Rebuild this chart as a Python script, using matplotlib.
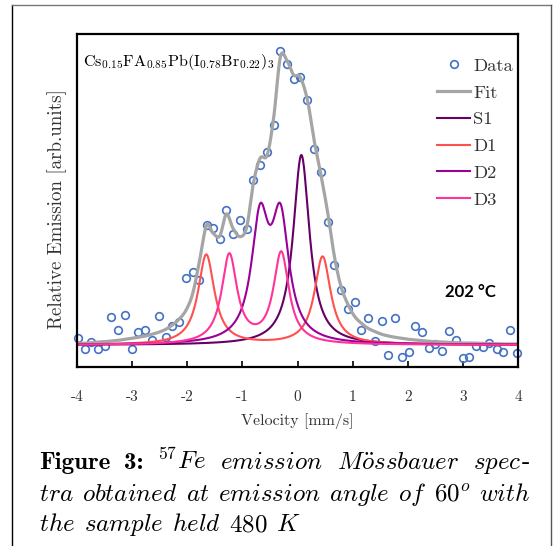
import numpy as np
import matplotlib
matplotlib.use("Agg")
import matplotlib.pyplot as plt
from matplotlib.lines import Line2D

# ---------------- data ----------------
velocity = [-3.99, -3.86, -3.74, -3.62, -3.50, -3.38, -3.25, -3.13, -3.01, -2.89,
            -2.76, -2.64, -2.52, -2.39, -2.27, -2.15, -2.02, -1.90, -1.78, -1.65,
            -1.53, -1.41, -1.29, -1.17, -1.04, -0.92, -0.80, -0.68, -0.55, -0.43,
            -0.31, -0.19, -0.07, 0.05, 0.18, 0.30, 0.42, 0.55, 0.67, 0.79,
            0.92, 1.04, 1.16, 1.28, 1.41, 1.53, 1.65, 1.77, 1.90, 2.02,
            2.14, 2.26, 2.38, 2.50, 2.63, 2.75, 2.87, 3.00, 3.12, 3.24,
            3.36, 3.48, 3.61, 3.73, 3.85, 3.98]
emission = [0.073, -0.037, 0.027, -0.037, -0.007, 0.280, 0.150, 0.300, -0.043, 0.127,
            0.150, 0.050, 0.293, 0.083, 0.190, 0.230, 0.670, 0.727, 0.647, 1.203,
            1.167, 1.057, 1.347, 1.113, 1.253, 1.157, 1.647, 1.797, 1.927, 2.203,
            2.937, 2.810, 2.657, 2.677, 2.450, 1.957, 1.730, 1.233, 0.800, 0.553,
            0.363, 0.433, 0.153, 0.273, 0.040, 0.243, -0.100, 0.267, -0.117, -0.067,
            0.193, 0.127, -0.030, 0.010, -0.057, 0.140, 0.050, -0.133, -0.123, -0.007,
            -0.020, 0.020, -0.043, -0.073, 0.153, -0.083]
fit_values = [0.017, 0.017, 0.023, 0.030, 0.033, 0.040, 0.047, 0.057, 0.067, 0.077,
              0.090, 0.107, 0.127, 0.157, 0.200, 0.257, 0.350, 0.517, 0.833, 1.197,
              1.117, 1.090, 1.310, 1.167, 1.083, 1.183, 1.617, 1.867, 1.900, 2.283,
              2.883, 2.843, 2.700, 2.677, 2.450, 2.050, 1.717, 1.317, 0.883, 0.583,
              0.400, 0.283, 0.217, 0.167, 0.133, 0.107, 0.090, 0.077, 0.067, 0.057,
              0.050, 0.043, 0.037, 0.033, 0.030, 0.027, 0.023, 0.020, 0.020, 0.017,
              0.017, 0.013, 0.013, 0.010, 0.010, 0.010]

# fitted sub-spectra (Lorentzian lines: positions, amplitudes, half widths)
s1_pos = [0.07]
s1_amp = [1.90]
s1_hw = [0.18]
d1_pos = [-1.655, 0.455]
d1_amp = [0.90, 0.88]
d1_hw = [0.18, 0.18]
d2_pos = [-0.679, -0.309]
d2_amp = [1.17, 1.17]
d2_hw = [0.19, 0.19]
d3_pos = [-1.236, -0.296]
d3_amp = [0.89, 0.91]
d3_hw = [0.17, 0.17]

x_ticks = [-4, -3, -2, -1, 0, 1, 2, 3, 4]
series_names = ["Data", "Fit", "S1", "D1", "D2", "D3"]

# ---------------- style ----------------
plt.rcParams.update({
    "font.family": "serif",
    "font.serif": ["cmr10", "DejaVu Serif"],
    "mathtext.fontset": "cm",
    "axes.unicode_minus": False,
    "axes.formatter.use_mathtext": False,
})

W, H = 554, 546
fig = plt.figure(figsize=(W / 100, H / 100), dpi=100)


def fx(px):
    return px / W


def fy(py):
    return 1 - py / H


ax = fig.add_axes([fx(77), fy(367), fx(518) - fx(77), fy(34) - fy(367)])

grid = np.linspace(-4, 4, 1601)


def lorentz_sum(pos, amp, hw):
    out = np.zeros_like(grid)
    for p, a, w in zip(pos, amp, hw):
        out += a / (1 + ((grid - p) / w) ** 2)
    return out


def smooth_line(xs, ys, n=20):
    """Spreadsheet-style smoothed line (Catmull-Rom) through the given points."""
    xs = np.asarray(xs, float)
    ys = np.asarray(ys, float)
    px = np.concatenate([[2 * xs[0] - xs[1]], xs, [2 * xs[-1] - xs[-2]]])
    py = np.concatenate([[2 * ys[0] - ys[1]], ys, [2 * ys[-1] - ys[-2]]])
    t = np.linspace(0, 1, n, endpoint=False)[:, None]
    outx, outy = [], []
    for i in range(1, len(px) - 2):
        for arr, out in ((px, outx), (py, outy)):
            p0, p1, p2, p3 = arr[i - 1], arr[i], arr[i + 1], arr[i + 2]
            seg = 0.5 * ((2 * p1) + (-p0 + p2) * t + (2 * p0 - 5 * p1 + 4 * p2 - p3) * t ** 2
                         + (-p0 + 3 * p1 - 3 * p2 + p3) * t ** 3)
            out.append(seg.ravel())
    outx.append([xs[-1]])
    outy.append([ys[-1]])
    return np.concatenate(outx), np.concatenate(outy)


s1 = lorentz_sum(s1_pos, s1_amp, s1_hw)
d1 = lorentz_sum(d1_pos, d1_amp, d1_hw)
d2 = lorentz_sum(d2_pos, d2_amp, d2_hw)
d3 = lorentz_sum(d3_pos, d3_amp, d3_hw)
fit_x, fit_y = smooth_line(velocity, fit_values)

ax.plot(velocity, emission, linestyle="none", marker="o", markersize=5.5,
        markerfacecolor="none", markeredgecolor="#4472C4", markeredgewidth=1.2,
        label=series_names[0], clip_on=False)
ax.plot(fit_x, fit_y, color="#A5A5A5", lw=2.3, label=series_names[1])
ax.plot(grid, s1, color="#660066", lw=1.5, label=series_names[2])
ax.plot(grid, d1, color="#FF5050", lw=1.5, label=series_names[3])
ax.plot(grid, d2, color="#990099", lw=1.5, label=series_names[4])
ax.plot(grid, d3, color="#FF3399", lw=1.5, label=series_names[5])

ax.set_xlim(-4, 4)
ax.set_ylim(-0.22, 3.11)
ax.set_xticks(x_ticks)
ax.set_xticklabels([str(t) for t in x_ticks])
ax.set_yticks([])
ax.tick_params(axis="x", direction="in", length=4.5, width=1.2, pad=17,
               labelsize=11, colors="black", labelcolor="#333333")
for sp in ax.spines.values():
    sp.set_linewidth(1.6)

leg = ax.legend(loc="upper right", bbox_to_anchor=(0.989, 0.928), frameon=False,
                fontsize=13.4, handlelength=1.78, handletextpad=0.16,
                labelspacing=0.575, borderaxespad=0.0, borderpad=0.0, numpoints=1)
for t in leg.get_texts():
    t.set_color("#333333")

ax.text(0.014, 0.904, r"$\mathrm{Cs_{0.15}FA_{0.85}Pb(I_{0.78}Br_{0.22})_3}$",
        transform=ax.transAxes, fontsize=11.6, va="baseline", ha="left")
ax.text(fx(470), fy(292), "202 \u00b0C", transform=fig.transFigure,
        fontsize=12, fontweight="bold", family="Lato", ha="center", va="center")

ax.set_xlabel("Velocity [mm/s]", fontsize=11.5, color="#333333")
ax.xaxis.set_label_coords(0.5, -0.138)
ax.xaxis.label.set_va("top")
fig.text(fx(57), fy(209), "Relative Emission [arb.units]", rotation=90,
         ha="center", va="center", fontsize=13.7, color="#333333")

# outer frame
fig.add_artist(Line2D([fx(12), fx(12)], [0, fy(5)], color="black", lw=1.0))
fig.add_artist(Line2D([fx(12), fx(551)], [fy(5), fy(5)], color="#777777", lw=1.0))
fig.add_artist(Line2D([fx(551), fx(551)], [0, fy(5)], color="#555555", lw=1.0))

# ---------------- caption (justified) ----------------
renderer = fig.canvas.get_renderer()
CAP = 18
bold = dict(family="cmb10", fontsize=CAP)
reg = dict(fontsize=CAP)


def place_line(words, x0, x1, ybase, justify=True, natural_gap=8.0):
    arts = []
    widths = []
    for w in words:
        pieces = []
        width = 0
        for txt, kw in w:
            t = fig.text(0, 0, txt, va="baseline", ha="left", **kw)
            bb = t.get_window_extent(renderer)
            pieces.append((t, width))
            width += bb.width
        arts.append(pieces)
        widths.append(width)
    if justify and len(words) > 1:
        gap = (x1 - x0 - sum(widths)) / (len(words) - 1)
    else:
        gap = natural_gap
    x = x0
    for pieces, wd in zip(arts, widths):
        for t, off in pieces:
            t.set_position((fx(x + off), fy(ybase)))
        x += wd + gap


def it(s):
    return (r"$\mathit{" + s + "}$", reg)


line1 = [[("Figure", bold)], [("3:", bold)],
         [(r"$^{57}\mathit{Fe}$", reg)], [it("emission")],
         [it(r"M\ddot{o}ssbauer")], [it("spec"), ("-", dict(fontsize=CAP, style="normal"))]]
line2 = [[it("tra")], [it("obtained")], [it("at")], [it("emission")], [it("angle")],
         [it("of")], [(r"$\mathit{60}^{\mathit{o}}$", reg)], [it("with")]]
line3 = [[it("the")], [it("sample")], [it("held")], [it("480")], [it("K")]]

place_line(line1, 39, 530, 469)
place_line(line2, 39, 530, 501)
place_line(line3, 39, 530, 531, justify=False, natural_gap=8.5)

fig.savefig("out.png", dpi=100)
